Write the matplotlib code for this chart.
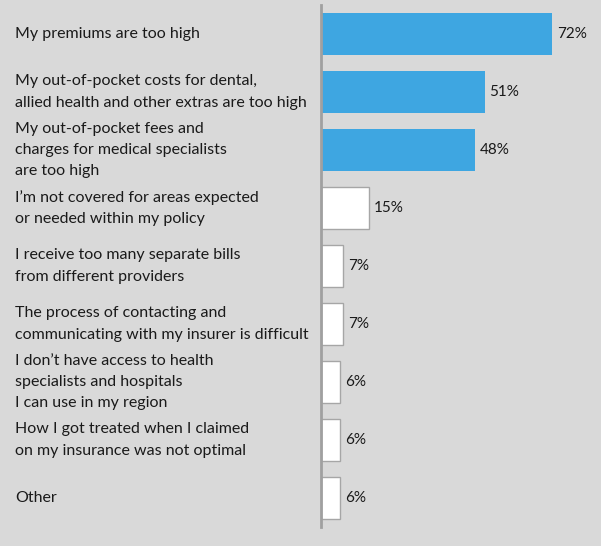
import matplotlib.pyplot as plt
from matplotlib.transforms import blended_transform_factory

labels = [
    "My premiums are too high",
    "My out-of-pocket costs for dental,\nallied health and other extras are too high",
    "My out-of-pocket fees and\ncharges for medical specialists\nare too high",
    "I\u2019m not covered for areas expected\nor needed within my policy",
    "I receive too many separate bills\nfrom different providers",
    "The process of contacting and\ncommunicating with my insurer is difficult",
    "I don\u2019t have access to health\nspecialists and hospitals\nI can use in my region",
    "How I got treated when I claimed\non my insurance was not optimal",
    "Other",
]
values = [72, 51, 48, 15, 7, 7, 6, 6, 6]
highlight = [True, True, True, False, False, False, False, False, False]

bg = "#d9d9d9"
blue = "#3ea6e1"

plt.rcParams['font.family'] = ['Lato', 'DejaVu Sans']

W, H = 601, 546
fig = plt.figure(figsize=(W / 100, H / 100), dpi=100, facecolor=bg)
ax = fig.add_axes([321 / W, 1 - 527 / H, (W - 321) / W, 522 / H])
ax.set_facecolor(bg)

ypos = list(range(len(values)))
for y, v, hl in zip(ypos, values, highlight):
    if hl:
        ax.barh(y, v, height=0.72, color=blue, edgecolor="none")
    else:
        ax.barh(y, v, height=0.72, color="white", edgecolor="#a6a6a6", linewidth=1)
    ax.text(v + 1.5, y, f"{v}%", va="center", ha="left", fontsize=11, color="#1a1a1a")

ax.set_xlim(0, (W - 321) / 3.21)
ax.set_ylim(len(values) - 0.5, -0.5)

trans = blended_transform_factory(fig.transFigure, ax.transData)
for y, lab in zip(ypos, labels):
    ax.text(15 / W, y, lab, transform=trans, va="center", ha="left",
            fontsize=11.5, color="#1a1a1a", linespacing=1.65)

for s in ["top", "right", "bottom"]:
    ax.spines[s].set_visible(False)
ax.spines["left"].set_color("#a0a0a0")
ax.spines["left"].set_linewidth(2)
ax.set_xticks([])
ax.set_yticks([])

fig.savefig("out.png", dpi=100, facecolor=bg)
